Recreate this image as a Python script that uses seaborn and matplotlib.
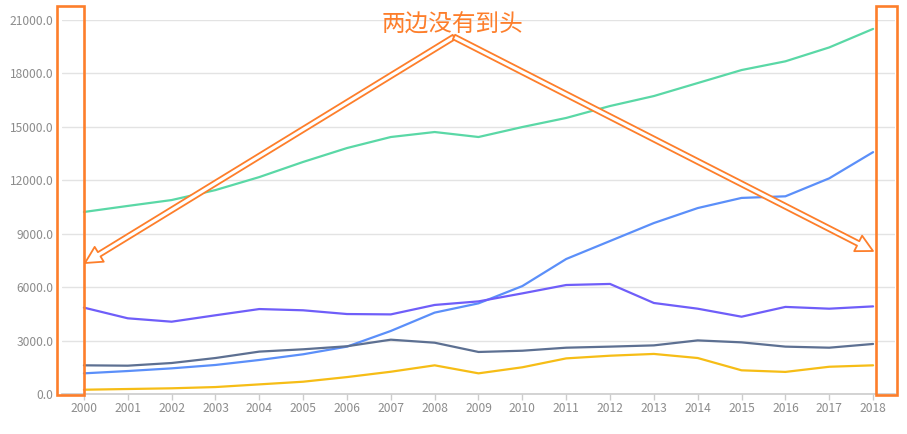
import numpy as np
import pandas as pd
import matplotlib.pyplot as plt
import seaborn as sns
from matplotlib.patches import Rectangle

# data
years = list(range(2000, 2019))
series_green = [10220, 10560, 10890, 11450, 12180, 13030, 13810, 14430, 14710, 14430,
                14990, 15500, 16170, 16730, 17460, 18190, 18680, 19460, 20500]
series_blue = [1160, 1290, 1440, 1630, 1910, 2230, 2660, 3540, 4570, 5090,
               6060, 7580, 8590, 9600, 10440, 11010, 11100, 12110, 13580]
series_purple = [4850, 4250, 4060, 4420, 4770, 4700, 4490, 4470, 5000, 5200,
                 5650, 6120, 6180, 5110, 4790, 4340, 4890, 4790, 4920]
series_slate = [1610, 1590, 1740, 2020, 2380, 2510, 2680, 3050, 2880, 2360,
                2430, 2600, 2660, 2730, 3010, 2900, 2660, 2600, 2810]
series_yellow = [240, 280, 320, 390, 540, 690, 950, 1250, 1610, 1160,
                 1500, 2000, 2150, 2250, 2020, 1330, 1240, 1530, 1610]
series_names = ["green", "blue", "purple", "slate", "yellow"]
series_colors = ["#5AD8A6", "#5B8FF9", "#6F5EF9", "#5D7092", "#F6BD16"]
y_ticks = [0, 3000, 6000, 9000, 12000, 15000, 18000, 21000]
note_text = "两边没有到头"

ORANGE = "#fd7e2b"
GREY_TXT = "#8c8c8c"

df = pd.DataFrame({
    "year": years * 5,
    "value": series_green + series_blue + series_purple + series_slate + series_yellow,
    "series": np.repeat(series_names, len(years)),
})

sns.set_theme(style="white")
plt.rcParams["font.family"] = ["Noto Sans CJK SC", "DejaVu Sans"]

fig = plt.figure(figsize=(9.07, 4.34), dpi=100)
ax = fig.add_axes([62 / 907, 40 / 434, 833 / 907, 374 / 434])

sns.lineplot(
    data=df, x="year", y="value", hue="series",
    hue_order=series_names, palette=series_colors,
    linewidth=1.6, legend=False, ax=ax
)

ax.set_xlim(years[0] - 0.5, years[-1] + 0.5)
ax.set_ylim(y_ticks[0], y_ticks[-1])
ax.set_xticks(years)
ax.set_xticklabels([str(y) for y in years])
ax.set_yticks(y_ticks)
ax.set_yticklabels([f"{v:.1f}" for v in y_ticks])
ax.set_xlabel("")
ax.set_ylabel("")

ax.grid(axis="y", color="#e3e3e3", linewidth=1)
ax.set_axisbelow(True)
for side in ["top", "right", "left"]:
    ax.spines[side].set_visible(False)
ax.spines["bottom"].set_color("#cccccc")
ax.spines["bottom"].set_linewidth(1.2)
ax.tick_params(axis="x", length=4, width=1, color="#cccccc", pad=2,
               labelsize=8.7, labelcolor=GREY_TXT, bottom=True)
ax.tick_params(axis="y", length=0, pad=6, labelsize=8.7, labelcolor=GREY_TXT)

# annotation boxes at both ends
for x0, x1 in [(57, 84), (876, 897)]:
    fig.add_artist(Rectangle(
        (x0 / 907, (434 - 395) / 434), (x1 - x0) / 907, 389 / 434,
        transform=fig.transFigure, fill=False, edgecolor=ORANGE, linewidth=1.9
    ))

# hollow arrows from the note to both ends
arrow_style = "simple,head_length=1.2,head_width=1.25,tail_width=0.36"
for tip in [(85, 434 - 263), (873, 434 - 251)]:
    ax.annotate(
        "", xy=tip, xytext=(454, 434 - 37),
        xycoords="figure pixels", textcoords="figure pixels",
        arrowprops=dict(arrowstyle=arrow_style, mutation_scale=10,
                        facecolor="white", edgecolor=ORANGE, linewidth=1.3,
                        shrinkA=0, shrinkB=0),
        annotation_clip=False
    )

fig.text(452 / 907, 1 - 25 / 434, note_text, ha="center", va="center",
         fontsize=17, color=ORANGE, family=["Noto Sans CJK SC", "DejaVu Sans"])

plt.savefig("out.png", dpi=100)
plt.close()
